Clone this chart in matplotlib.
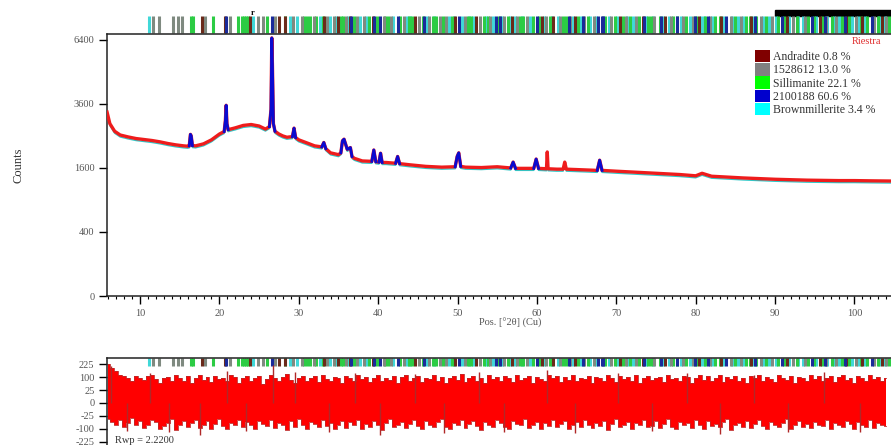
import numpy as np
import matplotlib.pyplot as plt
import matplotlib.transforms as mtransforms
from matplotlib.patches import Patch, Rectangle
from matplotlib.ticker import MultipleLocator, FixedLocator

plt.rcParams['font.family'] = ['Liberation Serif', 'DejaVu Serif']
plt.rcParams['axes.unicode_minus'] = False

obs_x = [5.85, 6.2, 6.8, 7.5, 8.5, 9.5, 10.5, 11.5, 12.5, 13.5, 14.5, 15.5, 16.0,
         16.2, 16.35, 16.45, 16.6, 17.0, 18.0, 19.0, 20.0, 20.6, 20.75, 20.85,
         20.95, 21.1, 22.0, 23.0, 24.0, 25.0, 25.8, 26.3, 26.5, 26.6, 26.68,
         26.8, 27.0, 27.5, 28.0, 28.5, 29.2, 29.4, 29.6, 30.0, 31.0, 32.0, 32.9,
         33.15, 33.4, 34.0, 35.0, 35.3, 35.5, 35.7, 35.9, 36.1, 36.5, 36.7,
         37.0, 38.0, 39.2, 39.45, 39.7, 40.1, 40.3, 40.5, 41.0, 42.2, 42.45,
         42.7, 44.0, 46.0, 48.0, 49.7, 49.95, 50.15, 50.4, 51.0, 53.0, 55.0,
         56.7, 57.0, 57.3, 58.5, 59.6, 59.9, 60.2, 61.2, 61.3, 61.4, 62.5,
         63.3, 63.5, 63.7, 65.0, 67.6, 67.9, 68.2, 70.0, 72.0, 74.0, 76.0,
         78.0, 80.0, 80.8, 82.0, 84.0, 86.0, 88.0, 90.0, 92.0, 94.0, 96.0,
         98.0, 100.0, 102.0, 104.6]
obs_y = [3300, 2900, 2650, 2530, 2470, 2420, 2390, 2360, 2320, 2270, 2230, 2200, 2190,
         2200, 2550, 2500, 2210, 2200, 2260, 2380, 2560, 2640, 3000, 3550,
         2900, 2700, 2760, 2840, 2870, 2820, 2720, 2800, 3400, 6500, 5200,
         2900, 2650, 2560, 2500, 2460, 2480, 2750, 2450, 2380, 2290, 2200, 2170,
         2300, 2120, 2000, 1950, 2000, 2350, 2400, 2250, 2100, 2150, 1900,
         1850, 1780, 1770, 2080, 1760, 1750, 1990, 1740, 1740, 1720, 1900,
         1710, 1680, 1640, 1620, 1630, 1900, 2000, 1640, 1620, 1610, 1630,
         1600, 1750, 1590, 1590, 1590, 1830, 1590, 1580, 2025, 1580, 1570,
         1570, 1750, 1570, 1560, 1540, 1800, 1540, 1520, 1500, 1480, 1460,
         1440, 1410, 1470, 1400, 1380, 1360, 1345, 1330, 1320, 1310, 1305,
         1300, 1300, 1295, 1290]

# 2100188 peaks (blue)
peak_x = [[16.2, 16.35, 16.45, 16.6], [20.6, 20.75, 20.85, 20.95, 21.1],
          [26.3, 26.5, 26.6, 26.68, 26.8, 27.0], [29.2, 29.4, 29.6],
          [32.9, 33.15, 33.4], [35.3, 35.5, 35.7, 35.9, 36.1, 36.5, 36.7],
          [39.2, 39.45, 39.7], [40.1, 40.3, 40.5], [42.2, 42.45, 42.7],
          [49.7, 49.95, 50.15, 50.4], [56.7, 57.0, 57.3], [59.6, 59.9, 60.2],
          [67.6, 67.9, 68.2]]
peak_y = [[2200, 2550, 2500, 2210], [2640, 3000, 3550, 2900, 2700],
          [2800, 3400, 6500, 5200, 2900, 2650], [2480, 2750, 2450],
          [2170, 2300, 2120], [2000, 2350, 2400, 2250, 2100, 2150, 1900],
          [1770, 2080, 1760], [1750, 1990, 1740], [1720, 1900, 1710],
          [1630, 1900, 2000, 1640], [1600, 1750, 1590], [1590, 1830, 1590],
          [1540, 1800, 1540]]

# difference curve envelope, half degree steps from 6 to 104
res_x = [6 + 0.5 * i for i in range(197)]
res_hi = [225, 180, 150, 120, 110, 90, 70, 105, 95, 80, 110, 120, 85, 60, 95, 100, 75, 115, 90, 70,
          105, 60, 95, 120, 80, 100, 65, 110, 85, 95, 75, 120, 100, 60, 90, 110, 70, 95, 105, 55,
          85, 115, 90, 70, 100, 125, 80, 60, 95, 110, 75, 90, 105, 65, 120, 85, 70, 100, 90, 60,
          110, 95, 75, 120, 85, 100, 65, 90, 115, 70, 95, 80, 105, 60, 100, 120, 75, 90, 110, 65,
          95, 85, 115, 70, 100, 60, 90, 110, 80, 125, 65, 95, 105, 75, 90, 60, 115, 85, 100, 70,
          105, 90, 65, 120, 80, 95, 110, 60, 100, 85, 75, 115, 90, 105, 65, 100, 80, 120, 70, 95,
          85, 110, 60, 100, 90, 75, 120, 95, 65, 105, 85, 100, 70, 115, 60, 95, 110, 80, 90, 100,
          65, 120, 85, 95, 75, 110, 100, 60, 90, 115, 80, 105, 70, 95, 120, 65, 100, 85, 110, 75,
          95, 60, 105, 90, 115, 70, 100, 85, 65, 120, 95, 80, 110, 60, 100, 90, 75, 115, 85, 105,
          70, 95, 110, 65, 100, 120, 80, 90, 60, 105, 95, 75, 115, 85, 100, 70, 95]
res_lo = [-40, -55, -70, -45, -90, -60, -35, -75, -50, -95, -70, -45, -55, -100, -80, -60, -40, -110, -70, -50,
          -85, -60, -45, -95, -75, -50, -100, -65, -40, -80, -105, -60, -70, -45, -90, -55, -75, -100, -50, -65,
          -80, -45, -95, -60, -70, -110, -50, -85, -40, -75, -100, -55, -65, -90, -45, -80, -60, -105, -70, -50,
          -95, -55, -75, -45, -100, -65, -85, -50, -70, -110, -60, -40, -90, -75, -55, -95, -65, -45, -80, -100,
          -50, -70, -90, -55, -40, -85, -105, -60, -75, -45, -95, -65, -50, -80, -110, -55, -70, -90, -45, -60,
          -85, -100, -50, -65, -75, -40, -95, -70, -55, -105, -60, -80, -45, -90, -65, -50, -100, -75, -55, -85,
          -45, -70, -95, -60, -80, -50, -110, -65, -40, -85, -75, -55, -100, -60, -70, -45, -90, -80, -50, -95,
          -65, -40, -85, -105, -55, -75, -60, -95, -45, -70, -100, -50, -80, -65, -90, -55, -40, -110, -70, -60,
          -85, -50, -95, -65, -45, -80, -100, -55, -70, -90, -60, -40, -105, -75, -50, -85, -65, -95, -55, -70,
          -80, -45, -100, -60, -75, -90, -50, -65, -105, -55, -70, -85, -45, -95, -60, -75, -80]
spike_x = [6.3, 8.4, 11.2, 13.6, 17.6, 20.9, 23.3, 26.7, 29.5, 33.8, 37.1, 40.2, 44.6,
           48.3, 52.7, 55.9, 61.3, 64.8, 70.2, 74.5, 78.9, 83.1, 87.4, 91.6, 96.2, 100.7]
spike_y = [200, -120, 130, -130, -150, 150, -120, 220, 140, -130, 135, -150, 125,
           -140, 140, -125, 160, -135, 130, -120, 135, -145, 120, -130, 140, -125]

# reflection positions per phase
refl = {
    'Brownmillerite': [11.1, 24.2, 28.9, 29.8, 32.7, 33.9, 34.7, 36.2, 37.7, 38.5, 41.9, 43.6, 44.0,
                       46.1, 47.0, 48.9, 49.5, 50.5, 51.5, 52.0, 53.6, 54.5, 55.6, 56.6, 57.2, 58.1,
                       59.1, 60.9, 61.9, 62.6, 64.5, 65.5, 66.7, 67.5, 69.1, 70.1, 71.4, 72.1, 73.7,
                       74.6, 75.9, 76.6, 78.1, 79.3, 80.7, 81.0, 82.1, 83.5, 84.6, 85.3, 86.0, 87.2,
                       88.5, 89.2, 90.1, 91.8, 92.9, 93.5, 95.2, 96.6, 97.4, 98.1, 99.7, 100.5,
                       101.3, 103.1, 103.8],
    'Sillimanite': [16.4, 16.7, 19.2, 22.3, 22.8, 23.1, 23.4, 23.6, 26.0, 28.3, 30.6, 31.0, 31.4,
                    32.2, 33.0, 35.3, 35.6, 37.0, 38.8, 39.9, 40.9, 41.3, 42.7, 43.9, 44.3, 45.6,
                    46.9, 47.3, 48.2, 49.3, 51.3, 51.7, 53.3, 53.8, 55.2, 56.3, 57.9, 58.3, 59.5,
                    60.2, 61.7, 63.3, 63.7, 65.2, 66.4, 68.6, 69.8, 70.9, 71.7, 72.9, 74.0, 74.4,
                    75.5, 77.2, 77.6, 78.8, 80.0, 81.2, 82.4, 83.0, 84.9, 86.3, 86.8, 87.6, 88.8,
                    90.4, 91.1, 92.7, 94.2, 94.9, 95.9, 97.2, 98.4, 99.3, 100.8, 101.6, 102.9, 104.3],
    '1528612': [11.6, 12.4, 14.2, 14.8, 15.3, 18.2, 21.3, 24.9, 25.5, 27.0, 29.3, 30.4, 31.9, 33.6,
                34.4, 35.9, 37.3, 38.2, 40.7, 41.6, 43.3, 45.1, 46.4, 47.8, 48.6, 50.9, 52.8, 54.1,
                55.8, 57.5, 58.7, 61.2, 62.9, 64.2, 65.9, 67.2, 69.3, 71.2, 72.5, 74.8, 76.9, 78.4,
                79.6, 81.8, 84.4, 85.7, 88.2, 89.6, 92.3, 93.8, 96.4, 97.7, 100.2, 102.4, 104.0],
    'Andradite': [17.8, 20.7, 23.9, 27.5, 28.3, 33.2, 34.9, 36.5, 39.3, 44.7, 49.7, 52.3, 56.9,
                  60.6, 62.0, 64.8, 70.4, 73.3, 76.1, 80.4, 83.2, 87.0, 91.5, 95.6, 98.9, 101.0, 103.5],
    '2100188': [20.86, 26.64, 36.54, 39.47, 40.29, 42.45, 45.79, 50.14, 54.87, 55.33, 59.96, 63.99,
                65.79, 67.74, 68.14, 68.32, 73.47, 75.66, 77.67, 79.89, 81.49, 83.84, 87.44, 90.83,
                94.65, 96.24, 98.75, 102.21],
}
phase_colors = {'Andradite': '#800000', '1528612': '#808080', 'Sillimanite': '#00ff00',
                '2100188': '#0000cd', 'Brownmillerite': '#00ffff'}
tick_colors = {'Andradite': '#6a2a1a', '1528612': '#7f8a80', 'Sillimanite': '#2ccc44',
               '2100188': '#1a2a9a', 'Brownmillerite': '#40d8d8'}
legend_labels = ['Andradite 0.8 %', '1528612 13.0 %', 'Sillimanite 22.1 %',
                 '2100188 60.6 %', 'Brownmillerite 3.4 %']
legend_keys = ['Andradite', '1528612', 'Sillimanite', '2100188', 'Brownmillerite']

W, H = 891, 445
fig = plt.figure(figsize=(W / 100, H / 100), dpi=100)
ax = fig.add_axes([107 / W, 1 - 296 / H, 1 - 107 / W, (296 - 34) / H])
ax2 = fig.add_axes([107 / W, 0, 1 - 107 / W, 1 - 358 / H])

fwd = lambda v: np.sqrt(np.clip(v, 0, None))
inv = lambda v: np.square(v)
sfwd = lambda v: np.sign(v) * np.sqrt(np.abs(v))
sinv = lambda v: np.sign(v) * np.square(v)

grey = '#555555'
# ---- main pattern
ax.plot(obs_x, obs_y, color='#30c8c8', lw=1.0, zorder=2,
        transform=ax.transData + mtransforms.ScaledTranslation(0, -2 / 100, fig.dpi_scale_trans))
ax.plot(obs_x, obs_y, color='#ee1c1c', lw=2.4, zorder=3)
for px, py in zip(peak_x, peak_y):
    ax.plot(px, py, color='#0a0ad0', lw=2.0, zorder=4)
ax.set_yscale('function', functions=(fwd, inv))
ax.set_xlim(5.84, 104.6)
ax.set_ylim(0, 6700)
ax.yaxis.set_major_locator(FixedLocator([0, 400, 1600, 3600, 6400]))
ax.yaxis.set_minor_locator(FixedLocator([]))
ax.xaxis.set_major_locator(MultipleLocator(10))
ax.xaxis.set_minor_locator(MultipleLocator(1))
ax.tick_params(axis='both', which='major', direction='out', length=6, width=1.0,
               labelsize=7.5, labelcolor=grey, pad=3)
ax.tick_params(axis='x', which='minor', direction='out', length=2.5, width=0.8)
ax.spines['right'].set_visible(False)
for s in ['left', 'bottom', 'top']:
    ax.spines[s].set_linewidth(1.1)
    ax.spines[s].set_color('#222222')
fig.text(18 / W, 1 - 165 / H, 'Counts', rotation=90, ha='center', va='center',
         fontsize=9, color='#333333')
fig.text(510 / W, 1 - 323 / H, 'Pos. [°2θ] (Cu)', ha='center', va='center',
         fontsize=7.5, color=grey)

# reflection ticks above the main panel and below the top of the difference panel
bt = mtransforms.blended_transform_factory(ax.transData, ax.transAxes)
bt2 = mtransforms.blended_transform_factory(ax2.transData, ax2.transAxes)
for key in ['Brownmillerite', 'Sillimanite', '1528612', 'Andradite', '2100188']:
    ax.vlines(refl[key], 1.005, 1.068, colors=tick_colors[key], lw=2.2,
              transform=bt, clip_on=False)
    ax2.vlines(refl[key], 0.91, 1.0, colors=tick_colors[key], lw=2.2, transform=bt2)
ax.add_patch(Rectangle((90.0, 1.068), 20, 0.022, transform=bt, color='black', clip_on=False))
fig.text(253 / W, 1 - 13 / H, 'r', ha='center', va='center', fontsize=6, fontweight='bold')
fig.text(852 / W, 1 - 42 / H, 'Riestra', ha='left', va='center', fontsize=7.5, color='#e03030')

handles = [Patch(facecolor=phase_colors[k], edgecolor='none') for k in legend_keys]
ax.legend(handles, legend_labels, loc='upper left', bbox_to_anchor=(755 / W, 1 - 50 / H),
          bbox_transform=fig.transFigure, frameon=False, fontsize=8.5, handlelength=1.3,
          handleheight=1.25, handletextpad=0.25, labelspacing=0.0, borderpad=0,
          borderaxespad=0, labelcolor='#333333')

# ---- difference panel
ax2.fill_between(res_x, res_lo, res_hi, step='mid', color='#ff0000', lw=0, zorder=2)
ax2.step(res_x, res_hi, where='mid', color='#c02828', lw=0.6, zorder=3)
ax2.step(res_x, res_lo, where='mid', color='#c02828', lw=0.6, zorder=3)
ax2.vlines(spike_x, 0, spike_y, colors='#b02828', lw=1.0, zorder=3)
ax2.set_yscale('function', functions=(sfwd, sinv))
ax2.set_xlim(5.84, 104.6)
ax2.set_ylim(-266, 303)
ax2.yaxis.set_major_locator(FixedLocator([-225, -100, -25, 0, 25, 100, 225]))
ax2.yaxis.set_minor_locator(FixedLocator([]))
ax2.set_xticks([])
ax2.tick_params(axis='y', direction='out', length=6, width=1.0, labelsize=7.5,
                labelcolor=grey, pad=3)
ax2.spines['right'].set_visible(False)
ax2.spines['bottom'].set_visible(False)
for s in ['left', 'top']:
    ax2.spines[s].set_linewidth(1.1)
    ax2.spines[s].set_color('#222222')
ax2.text(6.8, -215, 'Rwp = 2.2200', fontsize=7.5, color='#333333', va='center', ha='left')

fig.savefig('out.png', dpi=100)
